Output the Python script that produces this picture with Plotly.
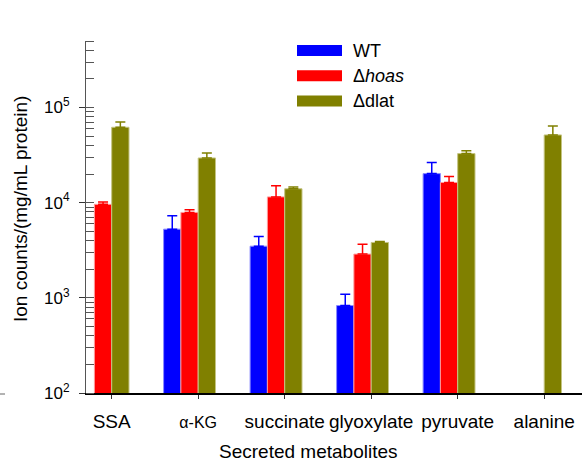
import plotly.graph_objects as go

# Secreted metabolite levels (ion counts per mg/mL protein)
categories = ["SSA", "α-KG", "succinate", "glyoxylate", "pyruvate", "alanine"]
wt = [None, 5270, 3490, 830, 20200, None]
wt_err = [0, 2000, 930, 260, 6300, 0]
hoas = [9600, 7900, 11500, 2880, 16300, None]
hoas_err = [550, 520, 3600, 780, 2500, 0]
dlat = [62000, 29500, 14000, 3820, 32800, 51500]
dlat_err = [8400, 3800, 600, 80, 2400, 12400]

tick_labels = ["SSA", '<span style="font-size:16px">α-KG</span>', "succinate",
               "glyoxylate", "pyruvate", "alanine"]
y_tickvals = [1e2, 1e3, 1e4, 1e5]
y_ticktext = ["10<sup>2</sup>", "10<sup>3</sup>", "10<sup>4</sup>", "10<sup>5</sup>"]

W, H = 582, 466
ML, MR, MT, MB = 86, 0, 41, 73
PW, PH = W - ML - MR, H - MT - MB

FONT = "Liberation Sans, Arial, sans-serif"

series = [
    ("WT", wt, wt_err, "#0000ff", "#8c8cff", -0.4),
    ("Δ<i>hoas</i>", hoas, hoas_err, "#ff0000", "#ff9a9a", -0.2),
    ("Δdlat", dlat, dlat_err, "#808000", "#c4c482", 0.0),
]

x_pos = list(range(len(categories)))

fig = go.Figure()
for name, vals, errs, color, edge, off in series:
    fig.add_trace(go.Bar(
        x=x_pos, y=vals, name=name, width=0.2, offset=off,
        marker=dict(color=color, line=dict(color=edge, width=1)),
        error_y=dict(type="data", array=errs, arrayminus=[0] * len(errs),
                     symmetric=False, color=color, thickness=1.5, width=5),
        showlegend=False,
    ))


def px_x(px):
    return (px - ML) / PW


def px_y(py):
    return (H - MB - py) / PH


shapes = []
annotations = []
# hand-drawn legend with wide swatches
for i, (name, _, _, color, _, _) in enumerate(series):
    cy = 50.5 + i * 25.3
    shapes.append(dict(type="rect", xref="paper", yref="paper",
                       x0=px_x(297), x1=px_x(342), y0=px_y(cy + 5.5), y1=px_y(cy - 5.5),
                       fillcolor=color, line=dict(width=0)))
    annotations.append(dict(xref="paper", yref="paper", x=px_x(351), y=px_y(cy),
                            text=name, showarrow=False, xanchor="left", yanchor="middle",
                            font=dict(size=18, color="black", family=FONT)))

# small mark at the far left of the baseline
shapes.append(dict(type="line", xref="paper", yref="paper",
                   x0=px_x(0), x1=px_x(5), y0=px_y(394), y1=px_y(394),
                   line=dict(color="#666666", width=1)))

# axis titles
annotations.append(dict(xref="paper", yref="paper", x=px_x(308.5), y=px_y(452),
                        text="Secreted metabolites", showarrow=False,
                        xanchor="center", yanchor="middle",
                        font=dict(size=19, color="black", family=FONT)))
annotations.append(dict(xref="paper", yref="paper", x=px_x(20), y=px_y(209),
                        text="Ion counts/(mg/mL protein)", showarrow=False, textangle=-90,
                        xanchor="center", yanchor="middle",
                        font=dict(size=19, color="black", family=FONT)))

x0 = -(111.7 - ML) / 86.5
x1 = x0 + PW / 86.5

fig.update_layout(
    width=W, height=H,
    margin=dict(l=ML, r=MR, t=MT, b=MB),
    paper_bgcolor="white", plot_bgcolor="white",
    barmode="overlay",
    font=dict(family=FONT, color="black"),
    shapes=shapes, annotations=annotations,
    xaxis=dict(
        range=[x0, x1], tickvals=x_pos, ticktext=tick_labels,
        showline=True, linecolor="black", linewidth=1.5,
        ticks="outside", ticklen=4, tickcolor="#333333", tickwidth=1,
        tickfont=dict(size=19, color="black", family=FONT),
        ticklabelstandoff=6,
        showgrid=False, zeroline=False,
    ),
    yaxis=dict(
        type="log", range=[2, 5.699],
        tickvals=y_tickvals, ticktext=y_ticktext,
        showline=True, linecolor="#555555", linewidth=1,
        ticks="outside", ticklen=6, tickcolor="#333333", tickwidth=1,
        tickfont=dict(size=17, color="black", family=FONT),
        ticklabelstandoff=6,
        minor=dict(ticks="inside", ticklen=8, dtick="D1", tickcolor="#555555",
                   tickwidth=1, showgrid=False),
        showgrid=False, zeroline=False,
    ),
)

fig.write_html("out.html")
